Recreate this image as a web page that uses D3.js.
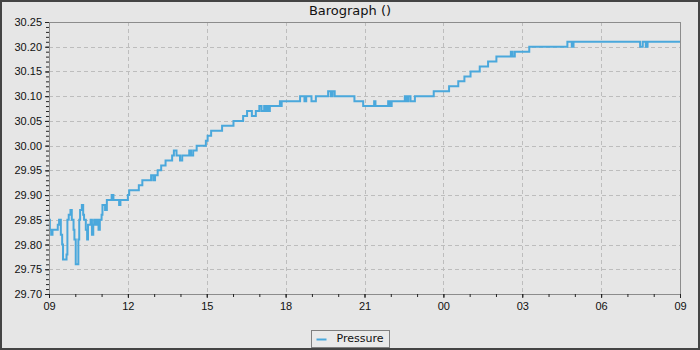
<!DOCTYPE html>
<html>
<head>
<meta charset="utf-8">
<script src="https://cdn.jsdelivr.net/npm/d3@7"></script>
<style>
  body { margin: 0; background: #e6e6e6; }
  svg { display: block; font-family: "DejaVu Sans", sans-serif; }
</style>
</head>
<body>
<svg id="chart" width="700" height="350"></svg>
<script>
const title = "Barograph ()";
const seriesName = "Pressure";

// readings, 09:00 one day to 09:00 the next (step line)
const times = [
  "09:00", "09:02", "09:05", "09:08", "09:20", "09:23", "09:27", "09:30", "09:32", "09:40",
  "09:42", "09:45", "09:49", "09:52", "09:56", "09:58", "10:01", "10:07", "10:09", "10:11",
  "10:15", "10:18", "10:20", "10:24", "10:27", "10:29", "10:35", "10:38", "10:41", "10:43",
  "10:47", "10:50", "10:53", "10:56", "11:00", "11:02", "11:08", "11:12", "11:23", "11:27",
  "11:40", "11:43", "11:53", "12:00", "12:03", "12:25", "12:33", "12:53", "12:58", "13:02",
  "13:08", "13:16", "13:26", "13:41", "13:45", "13:51", "13:59", "14:04", "14:20", "14:24",
  "14:29", "14:37", "14:58", "15:02", "15:10", "15:35", "16:01", "16:23", "16:32", "16:43",
  "16:52", "17:00", "17:05", "17:11", "17:14", "17:17", "17:21", "17:24", "17:47", "17:49",
  "17:51", "18:33", "18:43", "18:47", "18:59", "19:09", "19:37", "19:43", "19:47", "19:52",
  "20:37", "20:57", "21:22", "21:25", "21:54", "21:58", "22:02", "22:32", "22:36", "22:40",
  "22:45", "22:55", "23:38", "00:13", "00:34", "00:48", "01:02", "01:23", "01:42", "02:01",
  "02:34", "02:38", "02:43", "03:16", "04:43", "04:53", "04:57", "07:29", "07:35", "07:42",
  "07:46", "09:00"
];
const pressure = [
  29.85, 29.83, 29.82, 29.83, 29.84, 29.85, 29.82, 29.80, 29.77, 29.78,
  29.85, 29.86, 29.87, 29.85, 29.83, 29.81, 29.76, 29.81, 29.85, 29.87,
  29.88, 29.86, 29.85, 29.83, 29.81, 29.84, 29.85, 29.82, 29.84, 29.85,
  29.84, 29.85, 29.83, 29.85, 29.86, 29.88, 29.87, 29.89, 29.90, 29.89,
  29.88, 29.89, 29.89, 29.90, 29.91, 29.92, 29.93, 29.94, 29.93, 29.94,
  29.95, 29.96, 29.97, 29.98, 29.99, 29.98, 29.97, 29.98, 29.99, 29.98,
  29.99, 30.00, 30.01, 30.02, 30.03, 30.04, 30.05, 30.06, 30.07, 30.06,
  30.07, 30.08, 30.07, 30.08, 30.07, 30.08, 30.07, 30.08, 30.09, 30.08,
  30.09, 30.10, 30.09, 30.10, 30.09, 30.10, 30.11, 30.10, 30.11, 30.10,
  30.09, 30.08, 30.09, 30.08, 30.09, 30.08, 30.09, 30.10, 30.09, 30.10,
  30.09, 30.10, 30.11, 30.12, 30.13, 30.14, 30.15, 30.16, 30.17, 30.18,
  30.19, 30.18, 30.19, 30.20, 30.21, 30.20, 30.21, 30.20, 30.21, 30.20,
  30.21, 30.21
];

const yDomain = [29.70, 30.25];
const yMajorStep = 0.05;
const yMinorStep = 0.01;

// times roll over past midnight
const base = new Date(2024, 0, 1, 0, 0);
let dayOffset = 0, prevMin = -1;
const data = times.map((t, i) => {
  const [h, m] = t.split(":").map(Number);
  let mins = h * 60 + m;
  if (mins + dayOffset < prevMin) dayOffset += 1440;
  mins += dayOffset;
  prevMin = mins;
  return { date: new Date(base.getTime() + mins * 60000), value: pressure[i] };
});

const svg = d3.select("#chart");
const W = 700, H = 350;
const margin = { top: 22, right: 20, bottom: 56, left: 49 };
const plotW = W - margin.left - margin.right;
const plotH = H - margin.top - margin.bottom;

svg.append("rect")
  .attr("x", 1).attr("y", 1)
  .attr("width", W - 2).attr("height", H - 2)
  .attr("fill", "#e6e6e6")
  .attr("stroke", "#444")
  .attr("stroke-width", 2);

const g = svg.append("g").attr("transform", `translate(${margin.left},${margin.top})`);

const x = d3.scaleTime()
  .domain([data[0].date, data[data.length - 1].date])
  .range([0, plotW]);

const y = d3.scaleLinear()
  .domain(yDomain)
  .range([plotH, 0]);

const yMajor = d3.range(0, Math.round((yDomain[1] - yDomain[0]) / yMajorStep) + 1)
  .map(i => +(yDomain[0] + i * yMajorStep).toFixed(2));
const yMinor = d3.range(0, Math.round((yDomain[1] - yDomain[0]) / yMinorStep) + 1)
  .map(i => +(yDomain[0] + i * yMinorStep).toFixed(2));
const xMajor = x.ticks(d3.timeHour.every(3));
const xMinor = x.ticks(d3.timeHour.every(1));

// grid
g.append("g").selectAll("line")
  .data(yMajor.slice(1, -1))
  .enter().append("line")
  .attr("x1", 0).attr("x2", plotW)
  .attr("y1", d => Math.round(y(d)) + 0.5).attr("y2", d => Math.round(y(d)) + 0.5)
  .attr("stroke", "#bdbdbd")
  .attr("stroke-dasharray", "4,3");

g.append("g").selectAll("line")
  .data(xMajor.slice(1, -1))
  .enter().append("line")
  .attr("y1", 0).attr("y2", plotH)
  .attr("x1", d => Math.round(x(d)) + 0.5).attr("x2", d => Math.round(x(d)) + 0.5)
  .attr("stroke", "#bdbdbd")
  .attr("stroke-dasharray", "4,3");

// frame
g.append("rect")
  .attr("x", 0.5).attr("y", 0.5)
  .attr("width", plotW).attr("height", plotH)
  .attr("fill", "none")
  .attr("stroke", "#8c8c8c");

// pressure line
const line = d3.line()
  .x(d => x(d.date))
  .y(d => y(d.value))
  .curve(d3.curveStepAfter);

g.append("path")
  .datum(data)
  .attr("fill", "none")
  .attr("stroke", "#4aa8dc")
  .attr("stroke-width", 2)
  .attr("d", line);

// Y axis
const yAxis = g.append("g")
  .call(d3.axisLeft(y).tickValues(yMajor).tickFormat(d3.format(".2f")).tickSize(4).tickPadding(3));
yAxis.select(".domain").attr("stroke", "#8c8c8c");
yAxis.selectAll("text").attr("font-size", 11).attr("fill", "#111");
yAxis.selectAll(".tick line").attr("stroke", "#222");

g.append("g")
  .call(d3.axisLeft(y).tickValues(yMinor).tickFormat("").tickSize(3))
  .call(s => s.select(".domain").remove())
  .selectAll(".tick line").attr("stroke", "#222");

// X axis
const xAxis = g.append("g")
  .attr("transform", `translate(0,${plotH})`)
  .call(d3.axisBottom(x).tickValues(xMajor).tickFormat(d3.timeFormat("%H")).tickSize(4).tickPadding(4));
xAxis.select(".domain").attr("stroke", "#8c8c8c");
xAxis.selectAll("text").attr("font-size", 11).attr("fill", "#111");
xAxis.selectAll(".tick line").attr("stroke", "#222");

g.append("g")
  .attr("transform", `translate(0,${plotH})`)
  .call(d3.axisBottom(x).tickValues(xMinor).tickFormat("").tickSize(3))
  .call(s => s.select(".domain").remove())
  .selectAll(".tick line").attr("stroke", "#222");

// title
svg.append("text")
  .attr("x", W / 2).attr("y", 15)
  .attr("text-anchor", "middle")
  .attr("font-size", 13)
  .attr("fill", "#111")
  .text(title);

// legend
const legend = svg.append("g").attr("transform", "translate(311.5,330.5)");
legend.append("rect")
  .attr("width", 78).attr("height", 17)
  .attr("fill", "#e9e9e9")
  .attr("stroke", "#808080");
legend.append("line")
  .attr("x1", 5).attr("x2", 15)
  .attr("y1", 9).attr("y2", 9)
  .attr("stroke", "#4aa8dc")
  .attr("stroke-width", 2);
legend.append("text")
  .attr("x", 25).attr("y", 11.5)
  .attr("font-size", 11)
  .attr("fill", "#111")
  .text(seriesName);
</script>
</body>
</html>
